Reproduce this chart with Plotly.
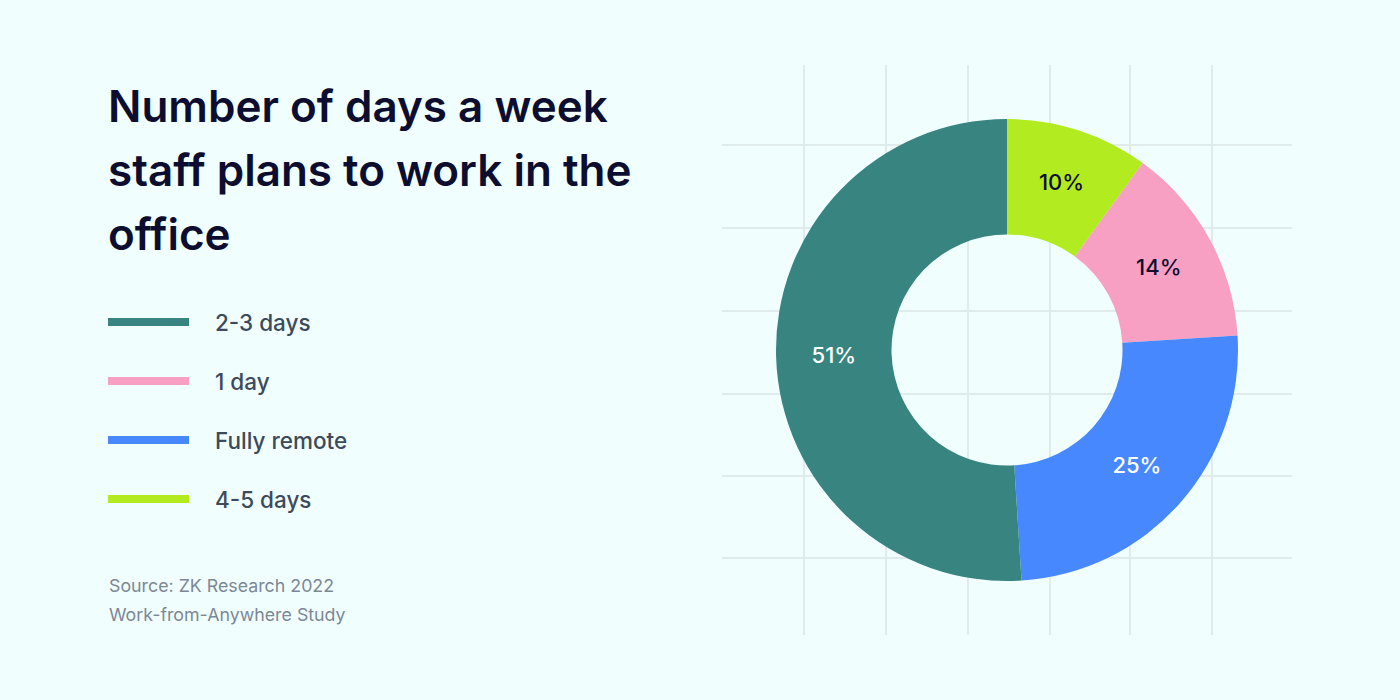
import plotly.graph_objects as go

slice_labels = ["4-5 days", "1 day", "Fully remote", "2-3 days"]
slice_values = [10, 14, 25, 51]
slice_colors = ["#b2eb20", "#f8a0c4", "#4788ff", "#378480"]
slice_text_colors = ["#0d0d30", "#0d0d30", "#ffffff", "#ffffff"]

legend_labels = ["2-3 days", "1 day", "Fully remote", "4-5 days"]
legend_colors = ["#378480", "#f8a0c4", "#4788ff", "#b2eb20"]

title_lines = ["Number of days a week", "staff plans to work in the", "office"]
source_lines = ["Source: ZK Research 2022", "Work-from-Anywhere Study"]

W, H = 1400, 700
fig = go.Figure()

fig.add_trace(go.Pie(
    labels=slice_labels, values=slice_values, sort=False, direction="clockwise",
    rotation=0, hole=0.5, marker=dict(colors=slice_colors, line=dict(width=0)),
    texttemplate="%{value}%", textposition="inside", insidetextorientation="horizontal",
    textfont=dict(family="Inter", size=22, color=slice_text_colors, weight=500),
    showlegend=False, hoverinfo="label+value",
    domain=dict(x=[776/W, 1238/W], y=[1-581/H, 1-119/H]),
))

shapes = []
grid_col = "#dfeceb"
for x in [804, 886, 968, 1050, 1130, 1212]:
    shapes.append(dict(type="line", xref="paper", yref="paper", x0=x/W, x1=x/W,
                       y0=1-635/H, y1=1-65/H, line=dict(color=grid_col, width=2), layer="below"))
for y in [145, 228, 311, 394, 476, 558]:
    shapes.append(dict(type="line", xref="paper", yref="paper", x0=722/W, x1=1292/W,
                       y0=1-y/H, y1=1-y/H, line=dict(color=grid_col, width=2), layer="below"))

annotations = []
for i, line in enumerate(title_lines):
    annotations.append(dict(
        text=line, x=106/W, y=1-(106 + i * 64)/H, xref="paper", yref="paper",
        xanchor="left", yanchor="middle", align="left", showarrow=False,
        font=dict(family="Inter", size=44, color="#0d0d30", weight=600)))

for i, (lab, col) in enumerate(zip(legend_labels, legend_colors)):
    yc = 322 + i * 59
    shapes.append(dict(type="rect", xref="paper", yref="paper", x0=108/W, x1=189/W,
                       y0=1-(yc+4)/H, y1=1-(yc-4)/H, fillcolor=col, line=dict(width=0)))
    annotations.append(dict(text=lab, x=213/W, y=1-yc/H, xref="paper", yref="paper",
                            xanchor="left", yanchor="middle", showarrow=False,
                            font=dict(family="Inter", size=22.5, color="#3d4a5c", weight=500)))

for i, line in enumerate(source_lines):
    annotations.append(dict(text=line, x=107/W, y=1-(585 + i * 29)/H, xref="paper", yref="paper",
                            xanchor="left", yanchor="middle", align="left", showarrow=False,
                            font=dict(family="Inter", size=17.8, color="#7d8797")))

fig.update_layout(width=W, height=H, margin=dict(l=0, r=0, t=0, b=0),
                  paper_bgcolor="#f0fffd", plot_bgcolor="#f0fffd",
                  shapes=shapes, annotations=annotations)
fig.write_html("out.html", config={"displayModeBar": False})
with open("out.html") as f:
    html = f.read()
html = html.replace("<head>", "<head><style>body{margin:0;background:#f0fffd;}</style>", 1)
with open("out.html", "w") as f:
    f.write(html)
